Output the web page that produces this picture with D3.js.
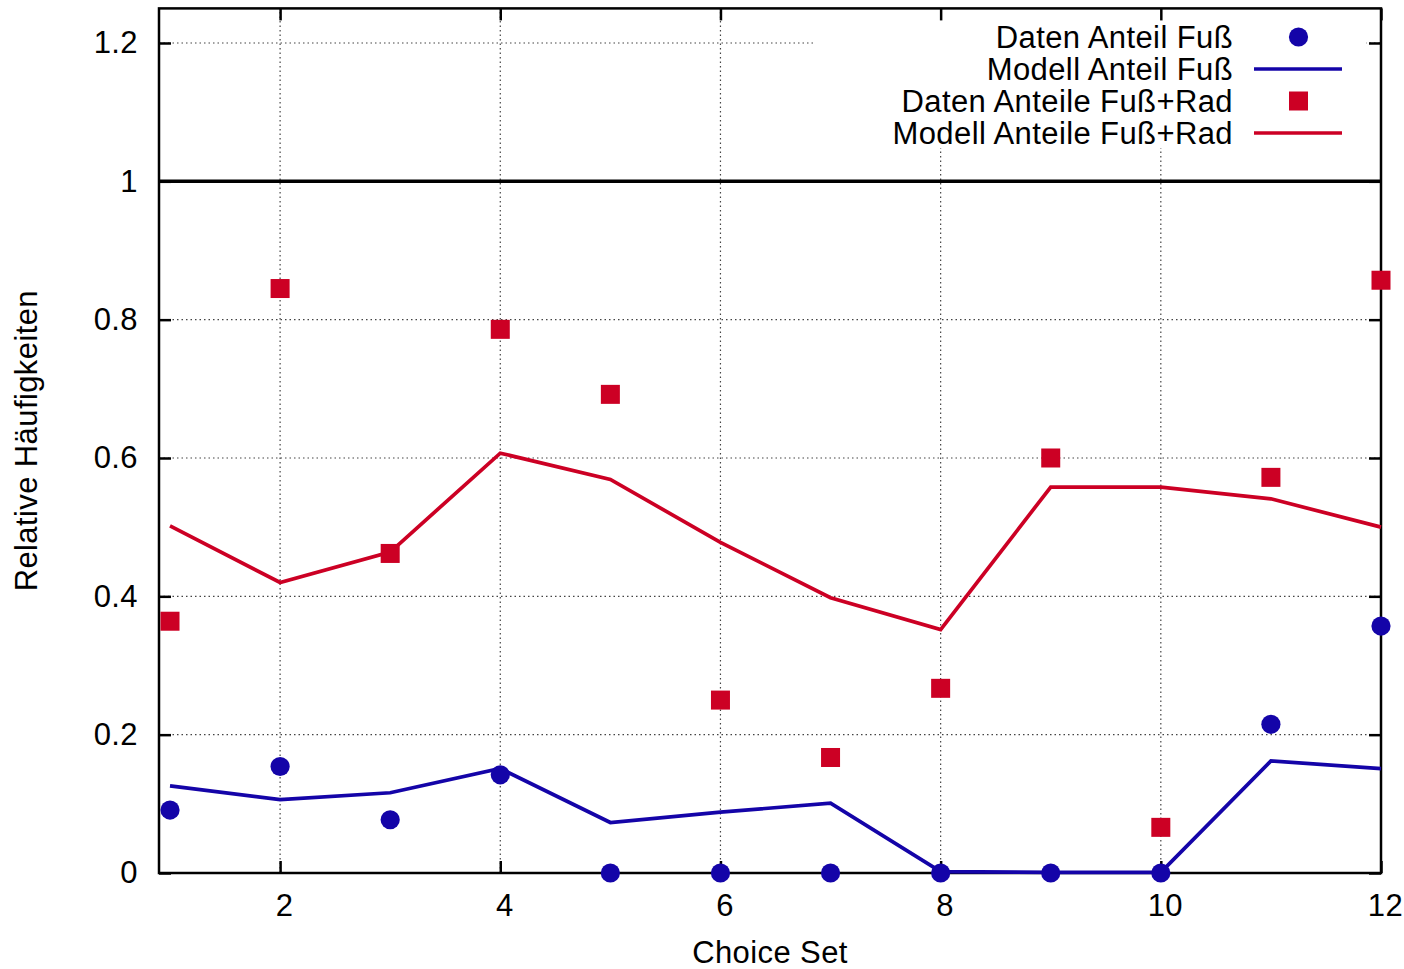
<!DOCTYPE html>
<html>
<head>
<meta charset="utf-8">
<script src="https://cdn.jsdelivr.net/npm/d3@7"></script>
<style>
  body { margin: 0; background: #fff; }
  svg text { font-family: "Liberation Sans", Arial, Helvetica, sans-serif; fill: #000; letter-spacing: 0.4px; }
</style>
</head>
<body>
<svg id="chart" width="1404" height="969"></svg>
<script>
// data
const choiceSets = [1, 2, 3, 4, 5, 6, 7, 8, 9, 10, 11, 12];
const datenFuss = [0.091, 0.154, 0.077, 0.142, 0, 0, 0, 0, 0, 0, 0.215, 0.357];
const modellFuss = [0.126, 0.106, 0.116, 0.151, 0.073, 0.088, 0.101, 0.002, 0.001, 0.001, 0.162, 0.151];
const datenFussRad = [0.364, 0.845, 0.462, 0.786, 0.692, 0.250, 0.167, 0.267, 0.600, 0.066, 0.572, 0.857];
const modellFussRad = [0.502, 0.420, 0.464, 0.607, 0.569, 0.478, 0.398, 0.352, 0.558, 0.558, 0.541, 0.500];

const xTicks = [2, 4, 6, 8, 10, 12];
const yTicks = [0, 0.2, 0.4, 0.6, 0.8, 1, 1.2];
const legendLabels = ["Daten Anteil Fuß", "Modell Anteil Fuß", "Daten Anteile Fuß+Rad", "Modell Anteile Fuß+Rad"];

const BLUE = "#1404a8";
const RED = "#cc0024";
const FONT = 31;

const svg = d3.select("#chart");
const pLeft = 159, pRight = 1381, pTop = 8.4, pBottom = 873;

const x = d3.scaleLinear().domain([0.9, 12]).range([pLeft, pRight]);
const y = d3.scaleLinear().domain([0, 1.25]).range([pBottom, pTop]);

// grid layers
const gGrid = svg.append("g").attr("id", "grid");
gGrid.selectAll("line.vgrid")
    .data(xTicks.filter(d => d < 12))
    .join("line")
    .attr("class", "vgrid")
    .attr("x1", d => x(d)).attr("x2", d => x(d))
    .attr("y1", pBottom).attr("y2", pTop)
    .attr("stroke", "#444").attr("stroke-width", 1.2)
    .attr("stroke-dasharray", "1.5,3");
gGrid.selectAll("line.hgrid")
    .data(yTicks.filter(d => d > 0))
    .join("line")
    .attr("class", "hgrid")
    .attr("x1", pLeft).attr("x2", pRight)
    .attr("y1", d => y(d)).attr("y2", d => y(d))
    .attr("stroke", "#444").attr("stroke-width", 1.2)
    .attr("stroke-dasharray", "1.5,3");

// opaque legend area hides grid
svg.append("rect")
    .attr("x", 813).attr("y", pTop + 1)
    .attr("width", 1366 - 813).attr("height", 148 - pTop - 1)
    .attr("fill", "#fff");

// axes with inward ticks, mirrored
const axB = svg.append("g").attr("transform", `translate(0,${pBottom})`)
    .call(d3.axisBottom(x).tickValues(xTicks).tickSizeInner(-12).tickSizeOuter(0).tickPadding(21).tickFormat(d3.format("d")));
const axT = svg.append("g").attr("transform", `translate(0,${pTop})`)
    .call(d3.axisTop(x).tickValues(xTicks).tickSizeInner(-12).tickSizeOuter(0).tickFormat(""));
const axL = svg.append("g").attr("transform", `translate(${pLeft},0)`)
    .call(d3.axisLeft(y).tickValues(yTicks).tickSizeInner(-12).tickSizeOuter(0).tickPadding(21).tickFormat(d => String(+d.toFixed(1))));
const axR = svg.append("g").attr("transform", `translate(${pRight},0)`)
    .call(d3.axisRight(y).tickValues(yTicks).tickSizeInner(-12).tickSizeOuter(0).tickFormat(""));

[axB, axT, axL, axR].forEach(a => {
  a.select(".domain").remove();
  a.selectAll(".tick line").attr("stroke", "#000").attr("stroke-width", 2.5);
  a.selectAll("text").attr("font-size", FONT).attr("font-family", null);
});
axB.selectAll(".tick text").attr("dx", 4);

// border
svg.append("rect")
    .attr("x", pLeft).attr("y", pTop)
    .attr("width", pRight - pLeft).attr("height", pBottom - pTop)
    .attr("fill", "none").attr("stroke", "#000").attr("stroke-width", 2.5);

// reference line at 1
svg.append("line")
    .attr("x1", pLeft).attr("x2", pRight)
    .attr("y1", y(1)).attr("y2", y(1))
    .attr("stroke", "#000").attr("stroke-width", 3.5);

// axis titles
svg.append("text")
    .attr("x", 770).attr("y", 963)
    .attr("text-anchor", "middle").attr("font-size", FONT)
    .text("Choice Set");
svg.append("text")
    .attr("transform", `translate(37,${(pTop + pBottom) / 2}) rotate(-90)`)
    .attr("text-anchor", "middle").attr("font-size", FONT)
    .text("Relative Häufigkeiten");

// model lines
const line = d3.line().x((d, i) => x(choiceSets[i])).y(d => y(d));
svg.append("path").datum(modellFussRad)
    .attr("d", line).attr("fill", "none")
    .attr("stroke", RED).attr("stroke-width", 3.7).attr("stroke-linejoin", "miter");
svg.append("path").datum(modellFuss)
    .attr("d", line).attr("fill", "none")
    .attr("stroke", BLUE).attr("stroke-width", 3.7).attr("stroke-linejoin", "miter");

// data points
const SQ = 19;
svg.append("g").selectAll("rect")
    .data(datenFussRad)
    .join("rect")
    .attr("x", (d, i) => x(choiceSets[i]) - SQ / 2)
    .attr("y", d => y(d) - SQ / 2)
    .attr("width", SQ).attr("height", SQ)
    .attr("fill", RED);
svg.append("g").selectAll("circle")
    .data(datenFuss)
    .join("circle")
    .attr("cx", (d, i) => x(choiceSets[i]))
    .attr("cy", d => y(d))
    .attr("r", 9.6)
    .attr("fill", BLUE);

// legend
const gKey = svg.append("g").attr("id", "legend");
const rowY = i => 37 + i * 32;
gKey.selectAll("text")
    .data(legendLabels)
    .join("text")
    .attr("x", 1233).attr("y", (d, i) => rowY(i) + 11)
    .attr("text-anchor", "end").attr("font-size", FONT)
    .text(d => d);
gKey.append("circle").attr("cx", 1298.5).attr("cy", rowY(0)).attr("r", 9.6).attr("fill", BLUE);
gKey.append("line").attr("x1", 1254).attr("x2", 1342).attr("y1", rowY(1)).attr("y2", rowY(1))
    .attr("stroke", BLUE).attr("stroke-width", 3.7);
gKey.append("rect").attr("x", 1298.5 - SQ / 2).attr("y", rowY(2) - SQ / 2).attr("width", SQ).attr("height", SQ).attr("fill", RED);
gKey.append("line").attr("x1", 1254).attr("x2", 1342).attr("y1", rowY(3)).attr("y2", rowY(3))
    .attr("stroke", RED).attr("stroke-width", 3.7);
</script>
</body>
</html>
